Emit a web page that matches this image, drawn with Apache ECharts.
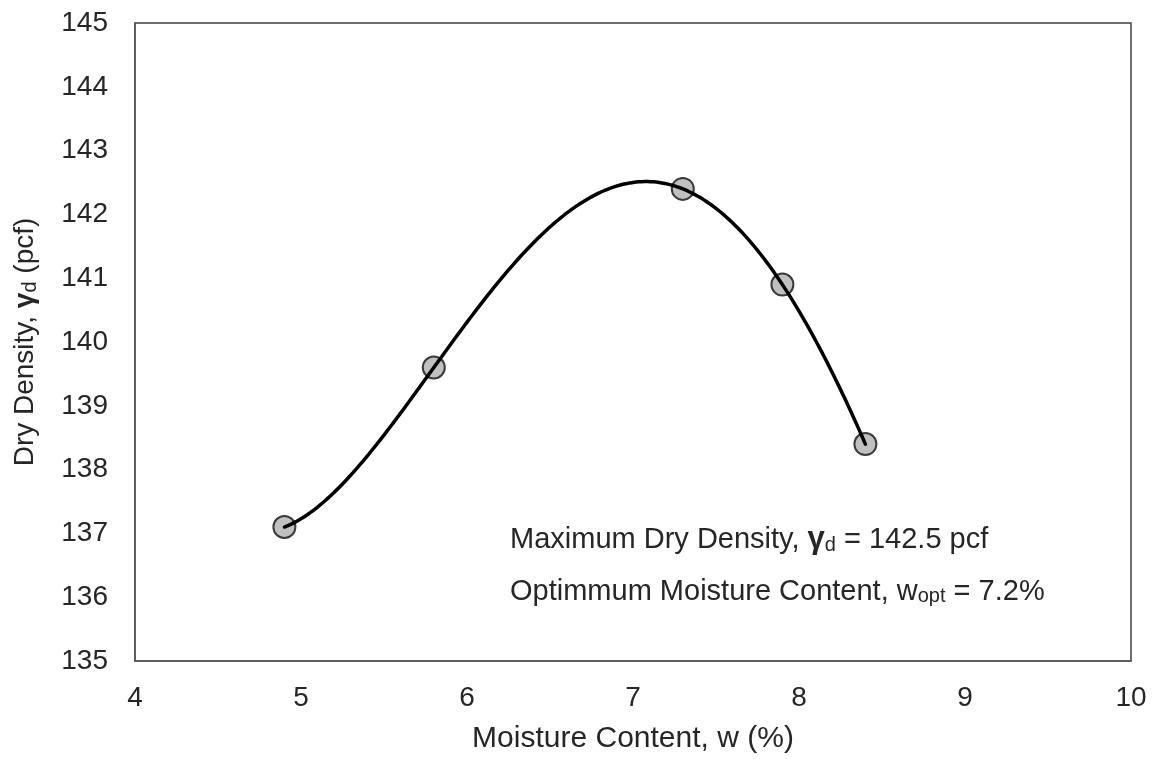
<!DOCTYPE html>
<html>
<head>
<meta charset="utf-8">
<style>
  html, body { margin: 0; padding: 0; background: #fff; }
  #chart { width: 1156px; height: 759px; }
</style>
<script src="https://cdn.jsdelivr.net/npm/echarts@6/dist/echarts.min.js"></script>
</head>
<body>
<div id="chart"></div>
<script>
// Compaction test results: moisture content (%) vs dry density (pcf)
const moisture = [4.9, 5.8, 7.3, 7.9, 8.4];
const dryDensity = [137.1, 139.6, 142.4, 140.9, 138.4];

// Axis ranges
const xRange = { min: 4, max: 10, interval: 1 };
const yRange = { min: 135, max: 145, interval: 1 };

// Results stated in the annotation
const maxDryDensity = 142.5;
const optMoisture = 7.2;

// Order of the polynomial trendline through the test points
const trendOrder = 4;

const FONT = '"Liberation Sans", Arial, sans-serif';
const TEXT = '#262626';
const FS = 28;      // tick labels, y title
const FS_X = 30;    // x title
const FS_NOTE = 29; // annotation
const SUB = 20;

// Least-squares polynomial fit (normal equations, Gaussian elimination)
function polyFit(xs, ys, order) {
  const n = order + 1;
  const A = [];
  for (let r = 0; r < n; r++) {
    const row = [];
    for (let c = 0; c < n; c++) {
      let s = 0;
      for (let i = 0; i < xs.length; i++) s += Math.pow(xs[i], r + c);
      row.push(s);
    }
    let b = 0;
    for (let i = 0; i < xs.length; i++) b += ys[i] * Math.pow(xs[i], r);
    row.push(b);
    A.push(row);
  }
  for (let p = 0; p < n; p++) {
    let best = p;
    for (let r = p + 1; r < n; r++) if (Math.abs(A[r][p]) > Math.abs(A[best][p])) best = r;
    [A[p], A[best]] = [A[best], A[p]];
    for (let r = 0; r < n; r++) {
      if (r === p) continue;
      const f = A[r][p] / A[p][p];
      for (let c = p; c <= n; c++) A[r][c] -= f * A[p][c];
    }
  }
  return A.map((row, i) => row[n] / row[i]);
}

// Centre x to keep the normal equations well conditioned
const xMean = moisture.reduce((a, b) => a + b, 0) / moisture.length;
const coeffs = polyFit(moisture.map(x => x - xMean), dryDensity, trendOrder);
const trend = x => coeffs.reduce((s, c, k) => s + c * Math.pow(x - xMean, k), 0);

const chart = echarts.init(document.getElementById('chart'), null, { renderer: 'canvas' });

const points = moisture.map((w, i) => [w, dryDensity[i]]);
const xLo = Math.min.apply(null, moisture);
const xHi = Math.max.apply(null, moisture);

const subRich = { fontFamily: FONT, fontSize: SUB, color: TEXT, verticalAlign: 'bottom', padding: [10, 0, 0, 0] };
const noteRich = {
  n: { fontFamily: FONT, fontSize: FS_NOTE, color: TEXT },
  g: { fontFamily: FONT, fontSize: FS_NOTE + 2, color: TEXT, fontWeight: 'bold' },
  s: subRich
};

chart.setOption({
  animation: false,
  backgroundColor: '#ffffff',
  grid: {
    left: 135, right: 25, top: 23, bottom: 96,
    show: true, borderColor: '#404040', borderWidth: 1.5,
    backgroundColor: 'transparent'
  },
  xAxis: {
    type: 'value',
    min: xRange.min, max: xRange.max, interval: xRange.interval,
    name: 'Moisture Content, w (%)',
    nameLocation: 'middle', nameGap: 63,
    nameTextStyle: { fontFamily: FONT, fontSize: FS_X, color: TEXT },
    axisLine: { show: true, lineStyle: { color: '#595959', width: 1.5 } },
    axisTick: { show: false },
    splitLine: { show: false },
    axisLabel: { fontFamily: FONT, fontSize: FS, color: TEXT, margin: 23 }
  },
  yAxis: {
    type: 'value',
    min: yRange.min, max: yRange.max, interval: yRange.interval,
    name: '{n|Dry Density, }{g|γ}{s|d}{n| (pcf)}',
    nameLocation: 'middle', nameGap: 95, nameRotate: 90,
    nameTextStyle: {
      fontFamily: FONT, fontSize: FS, color: TEXT,
      rich: {
        n: { fontFamily: FONT, fontSize: FS, color: TEXT },
        g: { fontFamily: FONT, fontSize: FS, color: TEXT, fontWeight: 'bold' },
        s: subRich
      }
    },
    axisLine: { show: true, lineStyle: { color: '#595959', width: 1.5 } },
    axisTick: { show: false },
    splitLine: { show: false },
    axisLabel: { fontFamily: FONT, fontSize: FS, color: TEXT, margin: 27 }
  },
  series: [{
    // measured points
    type: 'scatter',
    data: points,
    symbol: 'circle',
    symbolSize: 22,
    itemStyle: { color: '#c0c0c0', borderColor: '#3a3a3a', borderWidth: 2, opacity: 1 },
    z: 2
  }, {
    // 4th-order polynomial trendline over the tested range
    type: 'custom',
    data: [[xLo, xHi]],
    clip: true,
    z: 3,
    renderItem: function (params, api) {
      const lo = api.value(0), hi = api.value(1);
      const steps = 200;
      const pts = [];
      for (let i = 0; i <= steps; i++) {
        const x = lo + (hi - lo) * i / steps;
        pts.push(api.coord([x, trend(x)]));
      }
      return {
        type: 'polyline',
        shape: { points: pts },
        style: { stroke: '#000000', lineWidth: 3.5, fill: null, lineJoin: 'round', lineCap: 'round' }
      };
    }
  }],
  graphic: [{
    type: 'text',
    left: 510, top: 524,
    style: {
      text: '{n|Maximum Dry Density, }{g|γ}{s|d}{n| = ' + maxDryDensity + ' pcf}',
      fontFamily: FONT, fontSize: FS_NOTE, fill: TEXT,
      rich: noteRich
    }
  }, {
    type: 'text',
    left: 510, top: 577,
    style: {
      text: '{n|Optimmum Moisture Content, w}{s|opt}{n| = ' + optMoisture + '%}',
      fontFamily: FONT, fontSize: FS_NOTE, fill: TEXT,
      rich: noteRich
    }
  }]
});
</script>
</body>
</html>
